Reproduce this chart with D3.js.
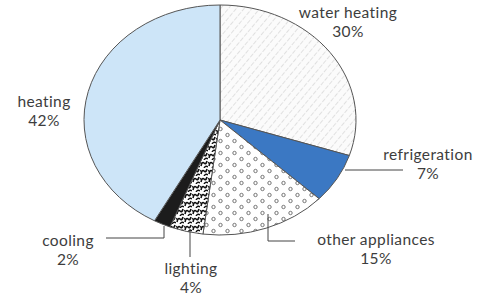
<!DOCTYPE html>
<html><head><meta charset="utf-8">
<script src="https://cdn.jsdelivr.net/npm/d3@7"></script>
<style>html,body{margin:0;padding:0;background:#fff;}svg{display:block;}</style>
</head><body>
<svg id="chart" width="482" height="299"></svg>
<script>
const categories = ["water heating","refrigeration","other appliances","lighting","cooling","heating"];
const values = [30, 7, 15, 4, 2, 42];
const valueLabels = ["30%","7%","15%","4%","2%","42%"];

const fills = ["url(#hatch)","#3b78c3","url(#dots)","url(#squig)","#1c1c1c","#cde5f8"];

// layout for labels (text anchor position) and leader lines
const labelLayout = [
  {x:348, y:18, line:null},
  {x:428, y:160, line:[[345,170],[403,170]]},
  {x:376, y:245, line:[[268,214],[268,241],[295,241]]},
  {x:191, y:274, line:[[190,229],[190,257]]},
  {x:68,  y:246, line:[[164,226],[164,238],[106,238]]},
  {x:44,  y:107, line:null}
];

const svg = d3.select("#chart");
const cx = 220, cy = 120, rx = 136, ry = 115;

const defs = svg.append("defs");
const h = defs.append("pattern").attr("id","hatch").attr("patternUnits","userSpaceOnUse")
  .attr("width",6).attr("height",6).attr("patternTransform","rotate(40)");
h.append("rect").attr("width",6).attr("height",6).attr("fill","#fbfbfb");
h.append("line").attr("x1",0).attr("y1",0).attr("x2",0).attr("y2",6)
  .attr("stroke","#b8b8b8").attr("stroke-width",0.8).attr("stroke-dasharray","3,1.5");
const d = defs.append("pattern").attr("id","dots").attr("patternUnits","userSpaceOnUse")
  .attr("width",14).attr("height",12);
d.append("rect").attr("width",14).attr("height",12).attr("fill","#fff");
d.append("circle").attr("cx",3.5).attr("cy",3).attr("r",1.7).attr("fill","none").attr("stroke","#666").attr("stroke-width",0.9);
d.append("circle").attr("cx",10.5).attr("cy",9).attr("r",1.7).attr("fill","none").attr("stroke","#666").attr("stroke-width",0.9);
const s = defs.append("pattern").attr("id","squig").attr("patternUnits","userSpaceOnUse")
  .attr("width",8).attr("height",8);
s.append("rect").attr("width",8).attr("height",8).attr("fill","#fff");
s.append("path").attr("d","M1,6 Q2,1 4,3 T7,1").attr("fill","none").attr("stroke","#111").attr("stroke-width",1.6);
s.append("path").attr("d","M0,2 Q1,4 2,3").attr("fill","none").attr("stroke","#111").attr("stroke-width",1.3);
s.append("path").attr("d","M4,8 Q6,5 8,7").attr("fill","none").attr("stroke","#111").attr("stroke-width",1.4);

const pie = d3.pie().sort(null).value(v => v);
const arcs = pie(values);

function pt(a){ return [cx + rx*Math.sin(a), cy - ry*Math.cos(a)]; }
function slicePath(a0, a1){
  const p0 = pt(a0), p1 = pt(a1);
  const large = (a1 - a0) > Math.PI ? 1 : 0;
  return `M${cx},${cy}L${p0[0]},${p0[1]}A${rx},${ry} 0 ${large} 1 ${p1[0]},${p1[1]}Z`;
}

svg.append("g").selectAll("path").data(arcs).join("path")
  .attr("d", a => slicePath(a.startAngle, a.endAngle))
  .attr("fill", (a,i) => fills[i])
  .attr("stroke","#555").attr("stroke-width",1).attr("stroke-linejoin","round");

svg.append("g").selectAll("polyline").data(labelLayout.filter(l => l.line)).join("polyline")
  .attr("points", l => l.line.map(p => p.join(",")).join(" "))
  .attr("fill","none").attr("stroke","#444").attr("stroke-width",1);

const tg = svg.append("g").attr("font-family","Lato, sans-serif").attr("font-size",15.5)
  .attr("letter-spacing",0.4).attr("fill","#3d3d3d").attr("text-anchor","middle");
categories.forEach((c,i) => {
  const L = labelLayout[i];
  tg.append("text").attr("x",L.x).attr("y",L.y).text(c);
  tg.append("text").attr("x",L.x).attr("y",L.y + 19).text(valueLabels[i]);
});
</script>
</body></html>
